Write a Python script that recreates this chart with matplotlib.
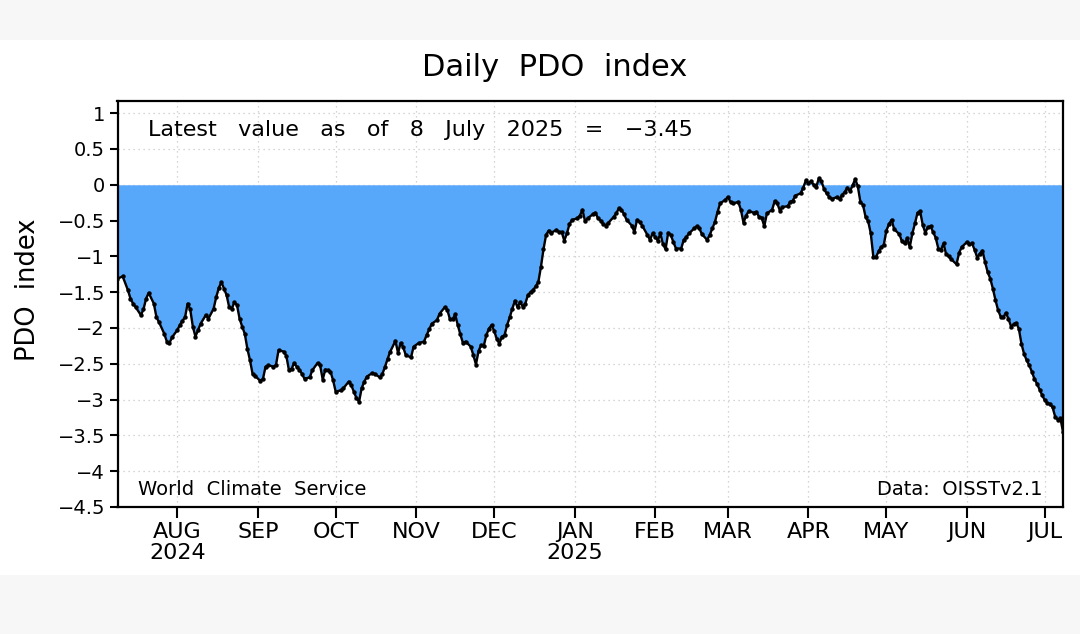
import numpy as np
import pandas as pd
import matplotlib
matplotlib.use("Agg")
import matplotlib.pyplot as plt
from matplotlib.patches import Rectangle

# ---------------- data ----------------
start_date = "2024-07-09"
end_date = "2025-07-08"

day_offsets = [
    0, 2, 4, 5, 6, 7, 9, 10, 11, 12, 14, 15, 16, 18, 19, 20, 21, 23, 24, 25,
    26, 27, 28, 29, 30, 31, 32, 34, 35, 37, 38, 39, 40, 41, 42, 43, 44, 45, 46, 47,
    48, 49, 50, 51, 52, 53, 55, 56, 57, 58, 60, 61, 62, 64, 65, 66, 67, 68, 69, 70,
    71, 72, 74, 75, 77, 78, 79, 80, 81, 82, 83, 84, 86, 87, 89, 90, 91, 92, 93, 94,
    95, 96, 98, 99, 101, 102, 103, 104, 105, 107, 108, 109, 110, 111, 113, 114, 116, 118, 119, 120,
    121, 123, 124, 126, 127, 128, 129, 130, 131, 132, 133, 134, 136, 137, 138, 139, 140, 141, 142, 143,
    144, 145, 146, 147, 148, 149, 150, 151, 152, 153, 154, 155, 156, 157, 158, 159, 160, 161, 162, 163,
    164, 165, 166, 167, 169, 170, 171, 172, 173, 174, 175, 177, 178, 179, 180, 181, 183, 184, 185, 186,
    187, 188, 189, 191, 192, 193, 194, 195, 196, 198, 199, 200, 201, 202, 204, 205, 206, 207, 208, 209,
    210, 211, 212, 213, 214, 215, 217, 218, 219, 220, 222, 223, 224, 225, 227, 228, 229, 230, 231, 232,
    234, 235, 236, 237, 239, 240, 241, 242, 243, 245, 246, 247, 248, 249, 250, 252, 253, 254, 255, 256,
    258, 259, 260, 261, 263, 264, 265, 266, 267, 268, 269, 270, 271, 272, 273, 274, 275, 277, 278, 279,
    280, 281, 282, 283, 284, 285, 286, 287, 288, 289, 290, 291, 292, 293, 294, 295, 296, 297, 298, 299,
    301, 302, 303, 304, 305, 306, 307, 308, 309, 310, 311, 312, 313, 314, 315, 316, 317, 318, 319, 320,
    321, 323, 324, 325, 327, 328, 329, 330, 331, 332, 333, 334, 335, 336, 337, 338, 339, 340, 341, 342,
    343, 344, 345, 346, 347, 348, 349, 350, 351, 352, 353, 354, 355, 356, 357, 358, 359, 360, 361, 362,
    363, 364,
]

pdo_values = [
    -1.31, -1.28, -1.47, -1.59, -1.66, -1.71, -1.82, -1.74, -1.59, -1.51, -1.66, -1.85, -1.92, -2.08, -2.19, -2.21, -2.13, -2.03, -1.96, -1.90,
    -1.85, -1.66, -1.74, -1.98, -2.12, -2.03, -1.94, -1.82, -1.87, -1.73, -1.57, -1.44, -1.36, -1.45, -1.54, -1.71, -1.73, -1.64, -1.68, -1.87,
    -1.98, -2.08, -2.29, -2.45, -2.64, -2.67, -2.74, -2.71, -2.54, -2.52, -2.54, -2.52, -2.31, -2.33, -2.39, -2.59, -2.57, -2.49, -2.54, -2.58,
    -2.64, -2.71, -2.69, -2.59, -2.49, -2.52, -2.72, -2.58, -2.59, -2.61, -2.73, -2.89, -2.87, -2.84, -2.75, -2.80, -2.89, -2.98, -3.03, -2.84,
    -2.75, -2.68, -2.63, -2.64, -2.69, -2.64, -2.54, -2.43, -2.33, -2.18, -2.35, -2.21, -2.27, -2.38, -2.41, -2.26, -2.21, -2.19, -2.10, -2.02,
    -1.94, -1.89, -1.80, -1.71, -1.75, -1.88, -1.88, -1.81, -1.96, -2.09, -2.21, -2.19, -2.26, -2.38, -2.51, -2.32, -2.24, -2.25, -2.10, -2.01,
    -1.96, -2.04, -2.15, -2.22, -2.12, -2.10, -1.96, -1.85, -1.73, -1.62, -1.71, -1.64, -1.70, -1.66, -1.54, -1.50, -1.47, -1.42, -1.36, -1.15,
    -0.90, -0.70, -0.64, -0.67, -0.63, -0.66, -0.66, -0.78, -0.68, -0.55, -0.49, -0.47, -0.43, -0.35, -0.51, -0.47, -0.41, -0.39, -0.47, -0.50,
    -0.55, -0.57, -0.53, -0.45, -0.40, -0.33, -0.35, -0.41, -0.49, -0.57, -0.66, -0.49, -0.52, -0.57, -0.70, -0.77, -0.68, -0.73, -0.78, -0.68,
    -0.83, -0.90, -0.67, -0.70, -0.80, -0.89, -0.89, -0.77, -0.73, -0.68, -0.61, -0.58, -0.61, -0.69, -0.77, -0.70, -0.61, -0.52, -0.38, -0.26,
    -0.21, -0.17, -0.24, -0.26, -0.24, -0.35, -0.53, -0.43, -0.37, -0.39, -0.38, -0.45, -0.46, -0.58, -0.40, -0.35, -0.23, -0.26, -0.36, -0.31,
    -0.30, -0.24, -0.22, -0.15, -0.12, -0.04, 0.06, 0.02, 0.05, 0.00, -0.03, 0.09, 0.05, -0.06, -0.12, -0.17, -0.20, -0.17, -0.20, -0.14,
    -0.10, -0.04, -0.09, -0.01, 0.08, -0.02, -0.24, -0.28, -0.45, -0.51, -0.68, -1.01, -1.01, -0.93, -0.87, -0.84, -0.64, -0.55, -0.49, -0.62,
    -0.69, -0.79, -0.82, -0.75, -0.87, -0.68, -0.54, -0.39, -0.37, -0.56, -0.67, -0.59, -0.58, -0.66, -0.74, -0.89, -0.91, -0.82, -0.97, -1.00,
    -1.04, -1.11, -0.95, -0.87, -0.80, -0.83, -0.82, -0.91, -1.02, -0.96, -0.92, -1.08, -1.22, -1.31, -1.45, -1.61, -1.75, -1.84, -1.85, -1.79,
    -1.87, -1.98, -1.95, -1.93, -2.01, -2.22, -2.36, -2.45, -2.52, -2.61, -2.71, -2.78, -2.86, -2.94, -3.01, -3.05, -3.06, -3.11, -3.24, -3.28,
    -3.26, -3.45,
]

month_ticks = ["2024-08-01", "2024-09-01", "2024-10-01", "2024-11-01", "2024-12-01",
               "2025-01-01", "2025-02-01", "2025-03-01", "2025-04-01", "2025-05-01",
               "2025-06-01", "2025-07-01"]
month_labels = ["AUG\n2024", "SEP", "OCT", "NOV", "DEC", "JAN\n2025", "FEB",
                "MAR", "APR", "MAY", "JUN", "JUL"]
y_ticks = [1, 0.5, 0, -0.5, -1, -1.5, -2, -2.5, -3, -3.5, -4, -4.5]
y_tick_labels = ["1", "0.5", "0", "\u22120.5", "\u22121", "\u22121.5", "\u22122",
                 "\u22122.5", "\u22123", "\u22123.5", "\u22124", "\u22124.5"]

title_text = "Daily  PDO  index"
latest_text = "Latest   value   as   of   8   July   2025   =   \u22123.45"
ylabel_text = "PDO  index"
left_note = "World  Climate  Service"
right_note = "Data:  OISSTv2.1"

# ---------------- figure ----------------
dates = pd.Timestamp(start_date) + pd.to_timedelta(day_offsets, unit="D")
vals = np.array(pdo_values)

W, H = 1080, 634
fig = plt.figure(figsize=(W / 100, H / 100), dpi=100, facecolor="#f7f7f7")
band = Rectangle((0, 1 - 575 / H), 1, (575 - 40) / H,
                 transform=fig.transFigure, facecolor="white",
                 edgecolor="none", zorder=-10)
fig.patches.append(band)

ax = fig.add_axes([117.5 / W, 1 - 507 / H, (1063 - 117.5) / W, (507 - 101) / H])
ax.set_zorder(1)
ax.set_facecolor("white")

ax.fill_between(dates, vals, 0, color="#57a8fb", linewidth=0, zorder=2)
ax.plot(dates, vals, color="black", lw=1.7, marker="o", ms=3.2,
        markeredgewidth=0, zorder=3)

ax.set_xlim(pd.Timestamp(start_date), pd.Timestamp(end_date))
ax.set_ylim(-4.5, 1.17)

ax.set_xticks(pd.to_datetime(month_ticks))
ax.set_xticklabels(month_labels, fontsize=16, linespacing=1.05)
ax.set_yticks(y_ticks)
ax.set_yticklabels(y_tick_labels, fontsize=14)

ax.tick_params(axis="x", direction="out", length=8, width=1.5, pad=3, top=False)
ax.tick_params(axis="y", direction="out", length=6, width=1.5, pad=3, right=False)

for s in ax.spines.values():
    s.set_linewidth(1.6)
    s.set_color("black")

ax.grid(True, which="major", color="#c8c8c8", lw=0.9, linestyle=(0, (1, 3)))
ax.set_axisbelow(True)

ax.text(0.032, 0.929, latest_text, transform=ax.transAxes, fontsize=16,
        ha="left", va="center", color="black", zorder=5)
ax.text(0.0217, 0.044, left_note, transform=ax.transAxes, fontsize=14,
        ha="left", va="center", color="black", zorder=5)
ax.text(0.978, 0.044, right_note, transform=ax.transAxes, fontsize=14,
        ha="right", va="center", color="black", zorder=5)

fig.text(0.514, 1 - 68 / H, title_text, fontsize=22, ha="center", va="center")
fig.text(28 / W, 1 - 290 / H, ylabel_text, fontsize=18.5, rotation=90,
         ha="center", va="center")

fig.savefig("out.png", dpi=100, facecolor=fig.get_facecolor())
